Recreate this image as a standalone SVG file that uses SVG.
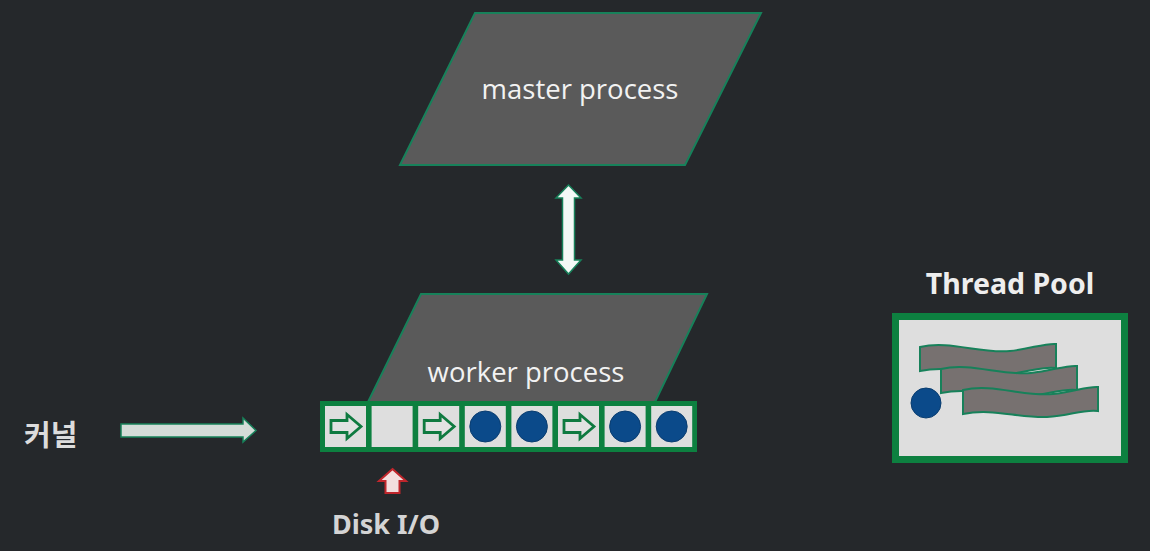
<svg xmlns="http://www.w3.org/2000/svg" xmlns:xlink="http://www.w3.org/1999/xlink" width="1150" height="551" viewBox="0 0 1150 551">
<style>
.para{fill:#5a5a5a;stroke:#17815a;stroke-width:2}
.ptext{font-family:"Open Sans","Noto Sans",sans-serif;font-size:27.5px;fill:#f2f2f2}
.cell{fill:#dedede}
.harrow{fill:#e2e2e2;stroke:#0f7a40;stroke-width:2.8;stroke-linejoin:miter}
.dot{fill:#0b4a8a;stroke:#0a3d70;stroke-width:1}
.label{font-family:"Noto Sans","Noto Sans CJK KR",sans-serif;font-weight:bold;font-size:28.5px;fill:#eeeeee}
.wave{fill:#777170;stroke:#17815a;stroke-width:2}
</style>
<defs>
<path id="ha" d="M6,14.5 H22 V8.5 L36,20.5 L22,32.5 V26.5 H6 Z"/>
</defs>
<rect width="1150" height="551" fill="#25282b"/>

<g id="master">
<polygon class="para" points="475,13 761,13 685,165 400,165"/>
<text class="ptext" x="580" y="99" text-anchor="middle">master process</text>
</g>

<g id="worker">
<polygon class="para" points="421,294 707,294 655,402 368,402"/>
<text class="ptext" x="526" y="382" text-anchor="middle">worker process</text>
</g>

<g id="queue">
<rect x="320" y="401" width="377" height="51" fill="#0d8040"/>
<rect class="cell" x="325" y="406" width="41" height="41"/>
<rect class="cell" x="371.6" y="406" width="41" height="41"/>
<rect class="cell" x="418.2" y="406" width="41" height="41"/>
<rect class="cell" x="464.8" y="406" width="41" height="41"/>
<rect class="cell" x="511.4" y="406" width="41" height="41"/>
<rect class="cell" x="558" y="406" width="41" height="41"/>
<rect class="cell" x="604.6" y="406" width="41" height="41"/>
<rect class="cell" x="651.2" y="406" width="41" height="41"/>
<use href="#ha" class="harrow" x="325" y="406"/>
<use href="#ha" class="harrow" x="418.2" y="406"/>
<use href="#ha" class="harrow" x="558" y="406"/>
<circle class="dot" cx="485.3" cy="426.5" r="15.5"/>
<circle class="dot" cx="531.9" cy="426.5" r="15.5"/>
<circle class="dot" cx="625.1" cy="426.5" r="15.5"/>
<circle class="dot" cx="671.7" cy="426.5" r="15.5"/>
</g>

<g id="kernel">
<text class="label" x="24" y="446" style="font-family:'Noto Sans CJK KR','Noto Sans',sans-serif;font-size:29px;fill:#dcdcdc">커널</text>
</g>

<g id="disk-io">
<text class="label" x="386" y="534" text-anchor="middle" style="fill:#d4d4d4;font-size:27px">Disk I/O</text>
</g>

<g id="thread-pool">
<text class="label" x="1010" y="294" text-anchor="middle">Thread Pool</text>
<rect x="892" y="313" width="236" height="150" fill="#0d8040"/>
<rect x="899" y="320" width="222" height="136" fill="#dedede"/>
<path class="wave" d="M920,347 C950,340 980,354 1010,351 C1030,349 1045,343 1056,344 L1056,368 C1040,366 1028,373 1005,374 C975,375 950,365 920,371 Z"/>
<path class="wave" d="M941,369 C971,362 1001,376 1031,373 C1051,371 1066,365 1077,366 L1077,390 C1061,388 1049,395 1026,396 C996,397 971,387 941,393 Z"/>
<path class="wave" d="M963,390 C993,383 1023,397 1053,394 C1073,392 1088,386 1098,387 L1098,411 C1082,409 1070,416 1047,417 C1017,418 993,408 963,414 Z"/>
<circle class="dot" cx="926" cy="403" r="15"/>
</g>

<g id="connectors">
<path d="M121,424 H243 V418 L256,430.5 L243,442 V437 H121 Z" fill="#d4dcd8" stroke="#17815a" stroke-width="1.5"/>
<path d="M568.5,185 L581,198 H574.5 V260 H581 L568.5,274 L556,260 H562.5 V198 H556 Z" fill="#f4f8f6" stroke="#17815a" stroke-width="1.5"/>
<path d="M392.5,469 L406,481 H399.5 V493 H385.5 V481 H379 Z" fill="#f3dede" stroke="#c0262c" stroke-width="2"/>
</g>
</svg>
